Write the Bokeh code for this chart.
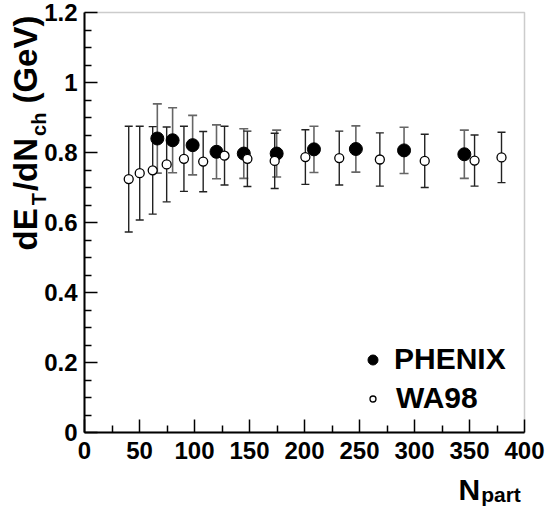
import math
from bokeh.plotting import figure
from bokeh.models import (Range1d, FixedTicker, Whisker, ColumnDataSource, Label,
                          Legend, LegendItem, TeeHead, BoxAnnotation)
from bokeh.embed import file_html
from bokeh.resources import INLINE

# ---------------- data ----------------
phenix_npart = [66.2, 80.1, 98.3, 120.0, 144.8, 174.7, 208.6, 246.7, 290.5, 345.3]
phenix_val = [0.840, 0.835, 0.821, 0.802, 0.797, 0.797, 0.809, 0.810, 0.806, 0.795]
phenix_err = [0.099, 0.093, 0.085, 0.077, 0.071, 0.067, 0.066, 0.066, 0.066, 0.069]

wa98_npart = [40.2, 50.2, 62.0, 74.7, 90.4, 107.9, 127.3, 148.1, 172.9, 200.8,
              231.6, 268.5, 309.3, 354.6, 379.1]
wa98_val = [0.724, 0.741, 0.749, 0.766, 0.782, 0.774, 0.791, 0.782, 0.776, 0.787,
            0.784, 0.780, 0.776, 0.777, 0.786]
wa98_err = [0.151, 0.134, 0.125, 0.107, 0.093, 0.086, 0.084, 0.079, 0.079, 0.078,
            0.077, 0.076, 0.076, 0.073, 0.072]

x_ticks = [0, 50, 100, 150, 200, 250, 300, 350, 400]
x_minor = [25, 75, 125, 175, 225, 275, 325, 375]
y_ticks = [0, 0.2, 0.4, 0.6, 0.8, 1, 1.2]
y_tick_labels = ["0", "0.2", "0.4", "0.6", "0.8", "1", "1.2"]
y_minor = [0.05, 0.1, 0.15, 0.25, 0.3, 0.35, 0.45, 0.5, 0.55, 0.65, 0.7, 0.75,
           0.85, 0.9, 0.95, 1.05, 1.1, 1.15]

FONT = "Liberation Sans"

# ---------------- layout (pixels) ----------------
W, H = 547, 507
PL, PR, PT, PB = 84, 524, 12, 432   # plot-area box on the canvas
x0, x1 = x_ticks[0], x_ticks[-1]
y0, y1 = y_ticks[0], y_ticks[-1]
sx = (PR - PL) / (x1 - x0)
sy = (PB - PT) / (y1 - y0)
xr = Range1d(x0 - PL / sx, x1 + (W - PR) / sx)
yr = Range1d(y0 - (H - PB) / sy, y1 + PT / sy)

p = figure(width=W, height=H, x_range=xr, y_range=yr,
           output_backend="svg", toolbar_location=None, min_border=0)
p.grid.visible = False
p.outline_line_color = None
p.background_fill_color = "white"
p.border_fill_color = "white"

# plot-area box (top/right edges)
p.add_layout(BoxAnnotation(left=x0, right=x1, bottom=y0, top=y1, fill_color=None,
                           line_color="#555555", line_width=1.5, level="underlay"))

for ax, ticks, minor, loc, bnd in ((p.xaxis[0], x_ticks, x_minor, y0, (x0, x1)),
                                   (p.yaxis[0], y_ticks, y_minor, x0, (y0, y1))):
    ax.fixed_location = loc
    ax.bounds = bnd
    ax.ticker = FixedTicker(ticks=ticks, minor_ticks=minor)
    ax.axis_line_color = "black"
    ax.axis_line_width = 2
    ax.major_tick_line_color = "black"
    ax.minor_tick_line_color = "black"
    ax.major_tick_line_width = 1.5
    ax.minor_tick_line_width = 1.5
    ax.major_tick_in = 13
    ax.major_tick_out = 0
    ax.minor_tick_in = 7
    ax.minor_tick_out = 0
    ax.major_label_text_font = FONT
    ax.major_label_text_font_style = "bold"
    ax.major_label_text_font_size = "24px"
    ax.major_label_text_color = "black"

p.yaxis[0].major_label_overrides = {t: l for t, l in zip(y_ticks, y_tick_labels)}
p.yaxis[0].major_label_standoff = 7
p.xaxis[0].major_label_standoff = 9

# ---------------- PHENIX ----------------
src_ph = ColumnDataSource(dict(
    x=phenix_npart, y=phenix_val,
    lo=[v - e for v, e in zip(phenix_val, phenix_err)],
    hi=[v + e for v, e in zip(phenix_val, phenix_err)]))
w_ph = Whisker(source=src_ph, base="x", lower="lo", upper="hi", dimension="height",
               line_color="#666666", line_width=1.6,
               upper_head=TeeHead(size=9, line_color="#666666", line_width=1.6),
               lower_head=TeeHead(size=9, line_color="#666666", line_width=1.6))
p.add_layout(w_ph)
r_ph = p.scatter("x", "y", source=src_ph, size=13, marker="circle",
                 fill_color="black", line_color="black")

# ---------------- WA98 ----------------
src_wa = ColumnDataSource(dict(
    x=wa98_npart, y=wa98_val,
    lo=[v - e for v, e in zip(wa98_val, wa98_err)],
    hi=[v + e for v, e in zip(wa98_val, wa98_err)]))
w_wa = Whisker(source=src_wa, base="x", lower="lo", upper="hi", dimension="height",
               line_color="#222222", line_width=1.4,
               upper_head=TeeHead(size=8, line_color="#222222", line_width=1.4),
               lower_head=TeeHead(size=8, line_color="#222222", line_width=1.4))
p.add_layout(w_wa)
r_wa = p.scatter("x", "y", source=src_wa, size=9, marker="circle",
                 fill_color="white", line_color="black", line_width=1.3)

# ---------------- legends ----------------
leg_common = dict(padding=0, margin=0, spacing=0, border_line_color=None,
                  background_fill_alpha=0, label_text_font=FONT,
                  label_text_font_style="bold", label_text_font_size="30px",
                  label_text_color="black", label_height=25)
leg1 = Legend(items=[LegendItem(label="PHENIX", renderers=[r_ph])],
              location=(360, 131), glyph_width=25, glyph_height=25,
              label_standoff=9, **leg_common)
leg2 = Legend(items=[LegendItem(label="WA98", renderers=[r_wa])],
              location=(365, 92), glyph_width=15, glyph_height=15,
              label_standoff=16, **leg_common)
p.add_layout(leg1)
p.add_layout(leg2)

# ---------------- axis titles ----------------
WID = {'d': 0.611, 'E': 0.667, 'T': 0.611, '/': 0.278, 'N': 0.722, 'c': 0.556,
       'h': 0.611, ' ': 0.278, '(': 0.333, 'G': 0.778, 'e': 0.556, 'V': 0.667,
       ')': 0.333, 'p': 0.611, 'a': 0.556, 'r': 0.389, 't': 0.333}
K = 0.35  # anchor-to-baseline correction (em)


def tw(s, size):
    return sum(WID[c] for c in s) * size


def add_text(txt, px, py, size, vertical=False):
    # (px, py): start of the text baseline on the canvas (top-left origin)
    if vertical:
        ax_, ay_ = px - K * size, py
    else:
        ax_, ay_ = px, py - K * size
    p.add_layout(Label(x=ax_, y=H - ay_, x_units="screen", y_units="screen",
                       text=txt, angle=(math.pi / 2 if vertical else 0.0),
                       text_align="left", text_baseline="alphabetic", text_font=FONT,
                       text_font_style="bold", text_font_size=f"{size}px",
                       text_color="black"))


# (text, size, baseline x, gap before)
pieces = [("dE", 33, 37, 0), ("T", 20, 45, 3), ("/dN", 33, 37, 2), ("ch", 20, 45, 2),
          ("(GeV)", 33, 37, 9)]
ypos = 250.0
for txt, sz, bx, gap in pieces:
    ypos -= gap
    add_text(txt, bx, ypos, sz, vertical=True)
    ypos -= tw(txt, sz)

add_text("N", 458, 499, 30)
add_text("part", 458 + tw("N", 30) + 1, 501, 21)

open("out.html", "w").write(file_html(p, INLINE))
